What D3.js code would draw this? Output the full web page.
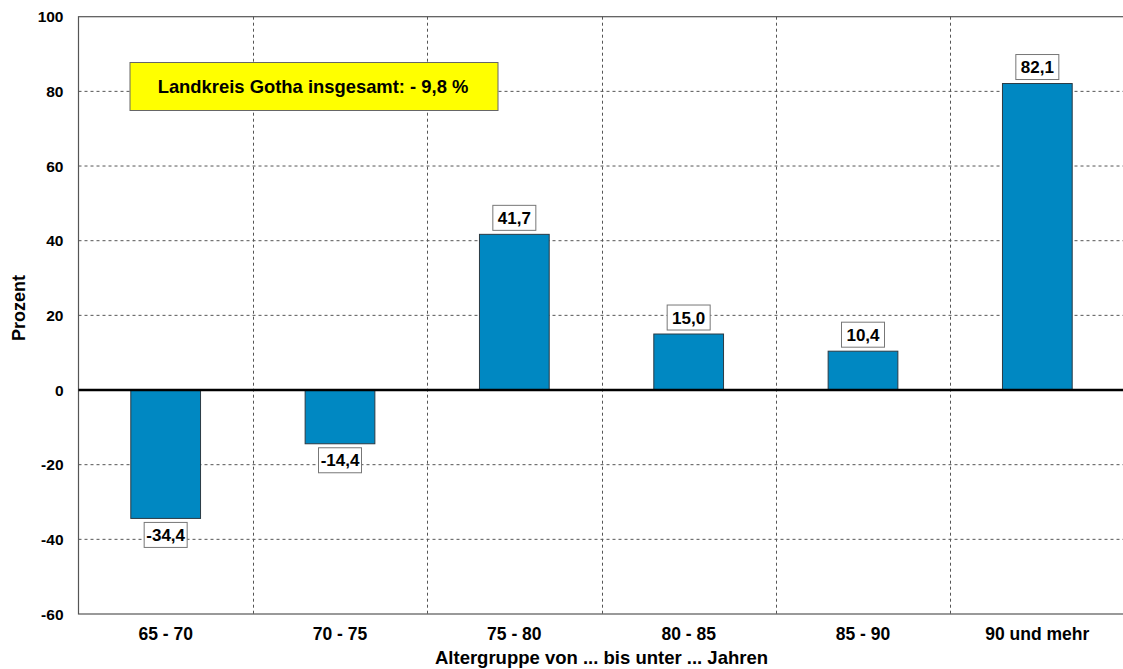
<!DOCTYPE html>
<html><head><meta charset="utf-8">
<script src="https://cdn.jsdelivr.net/npm/d3@7"></script>
<style>body{margin:0;background:#fff}svg{display:block}text{font-family:"Liberation Sans",Arial,sans-serif;font-weight:bold;fill:#000;white-space:pre}</style>
</head><body>
<svg id="c" width="1123" height="669"></svg>
<script>
const categories = ["65 - 70","70 - 75","75 - 80","80 - 85","85 - 90","90 und mehr"];
const values = [-34.4,-14.4,41.7,15.0,10.4,82.1];
const yTicks = [-60,-40,-20,0,20,40,60,80,100];
const noteText = "Landkreis Gotha insgesamt: - 9,8 %";
const yTitle = "Prozent";
const xTitle = "Altergruppe von ... bis unter ... Jahren";

const svg = d3.select("#c");
const L = 78.5, R = 1124.5, T = 16.7, B = 614;
const x = d3.scaleBand().domain(categories).range([L, R]).paddingInner(0).paddingOuter(0);
const y = d3.scaleLinear().domain([-60, 100]).range([B, T]);
const fmt = v => d3.format(".1f")(v).replace(".", ",").replace("\u2212", "-");

// gridlines horizontal
svg.append("g").selectAll("line").data(yTicks.filter(t => t !== 0 && t !== -60 && t !== 100)).join("line")
  .attr("x1", L).attr("x2", R).attr("y1", d => y(d)).attr("y2", d => y(d))
  .attr("stroke", "#555").attr("stroke-width", 1).attr("stroke-dasharray", "3,3");
// gridlines vertical
svg.append("g").selectAll("line").data(categories.slice(1)).join("line")
  .attr("x1", d => Math.round(x(d)) + 0.5).attr("x2", d => Math.round(x(d)) + 0.5).attr("y1", T).attr("y2", B)
  .attr("stroke", "#555").attr("stroke-width", 1).attr("stroke-dasharray", "3,3");

// frame
svg.append("rect").attr("x", L).attr("y", T).attr("width", R - L).attr("height", B - T)
  .attr("fill", "none").attr("stroke", "#555").attr("stroke-width", 1.2);

// bars
const bw = x.bandwidth() * 0.4;
svg.append("g").selectAll("rect").data(values).join("rect")
  .attr("x", (d, i) => x(categories[i]) + (x.bandwidth() - bw) / 2)
  .attr("width", bw)
  .attr("y", d => y(Math.max(0, d)))
  .attr("height", d => Math.abs(y(d) - y(0)))
  .attr("fill", "#0088C2").attr("stroke", "#2b3a44").attr("stroke-width", 1);

// zero line
svg.append("line").attr("x1", L).attr("x2", R).attr("y1", y(0)).attr("y2", y(0))
  .attr("stroke", "#000").attr("stroke-width", 2.5);

// value labels
const lab = svg.append("g").selectAll("g").data(values).join("g")
  .attr("transform", (d, i) => {
    const cx = x(categories[i]) + x.bandwidth() / 2;
    const cy = d >= 0 ? y(d) - 4 - 12.5 : y(d) + 4 + 12.5;
    return `translate(${cx},${cy})`;
  });
lab.append("rect").attr("x", -21.5).attr("y", -12.5).attr("width", 43).attr("height", 25)
  .attr("fill", "#fff").attr("stroke", "#777").attr("stroke-width", 1);
lab.append("text").attr("text-anchor", "middle").attr("dy", "0.36em").style("font-size", "17px")
  .text(d => fmt(d));

// y axis labels
svg.append("g").selectAll("text").data(yTicks).join("text")
  .attr("x", 63.5).attr("y", d => y(d)).attr("dy", "0.36em").attr("text-anchor", "end")
  .style("font-size", "15.5px").text(d => d);

// x axis labels
svg.append("g").selectAll("text").data(categories).join("text")
  .attr("x", d => x(d) + x.bandwidth() / 2).attr("y", 639.5).attr("text-anchor", "middle")
  .style("font-size", "17.5px").text(d => d);

// titles
svg.append("text").attr("x", (L + R) / 2).attr("y", 664).attr("text-anchor", "middle")
  .style("font-size", "18.5px").text(xTitle);
svg.append("text").attr("transform", "translate(25,308) rotate(-90)").attr("text-anchor", "middle")
  .style("font-size", "18px").text(yTitle);

// note box
const nb = svg.append("g");
nb.append("rect").attr("x", 130).attr("y", 62.5).attr("width", 368).attr("height", 48)
  .attr("fill", "#FFFF00").attr("stroke", "#666").attr("stroke-width", 1);
nb.append("text").attr("x", 313).attr("y", 86.3).attr("dy", "0.36em").attr("text-anchor", "middle")
  .style("font-size", "18.4px").text(noteText);
</script>
</body></html>
